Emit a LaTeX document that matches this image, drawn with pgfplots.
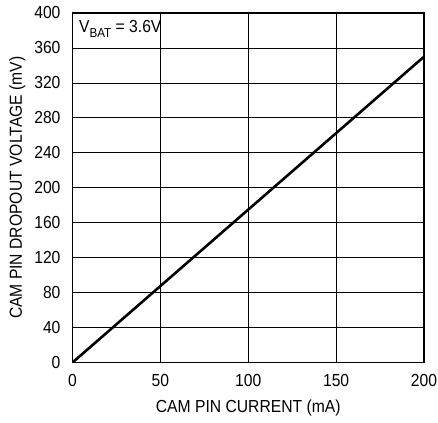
\documentclass[border=0pt]{standalone}
\usepackage{fontspec}
\setmainfont{Liberation Sans}[FakeStretch=0.9]
\usepackage{pgfplots}
\pgfplotsset{compat=1.18}
\usetikzlibrary{calc}
\begin{document}
\begin{tikzpicture}
\begin{axis}[
  scale only axis,
  width=352bp, height=350bp,
  xmin=0, xmax=200, ymin=0, ymax=400,
  xtick={0,50,100,150,200},
  ytick={0,40,80,120,160,200,240,280,320,360,400},
  grid=major,
  major grid style={black, line width=0.8pt},
  axis line style={black, line width=1.5pt},
  major tick length=0pt,
  tick label style={font=\fontsize{17.5}{19}\selectfont},
  label style={font=\fontsize{17.5}{19}\selectfont},
  /pgf/number format/assume math mode=true,
  xlabel={CAM PIN CURRENT (mA)},
  ylabel={CAM PIN DROPOUT VOLTAGE (mV)},
  xticklabel style={yshift=-8pt},
  yticklabel style={xshift=-8.5pt},
  xlabel style={yshift=-7pt},
  ylabel style={yshift=2pt},
]
\addplot[black, line width=2.6pt] coordinates {(0,0) (200,350)};
\node[anchor=base west, inner sep=0pt, font=\fontsize{17.5}{19}\selectfont, xshift=6.5bp, yshift=-20bp] at (rel axis cs:0,1) {V\raisebox{-4.4bp}{\fontsize{13}{14}\selectfont BAT} = 3.6V};
\end{axis}
\pgfresetboundingbox
\path[use as bounding box] ($(current axis.south west)+(-72.5bp,-60bp)$) rectangle ($(current axis.north east)+(14bp,13bp)$);
\end{tikzpicture}
\end{document}
